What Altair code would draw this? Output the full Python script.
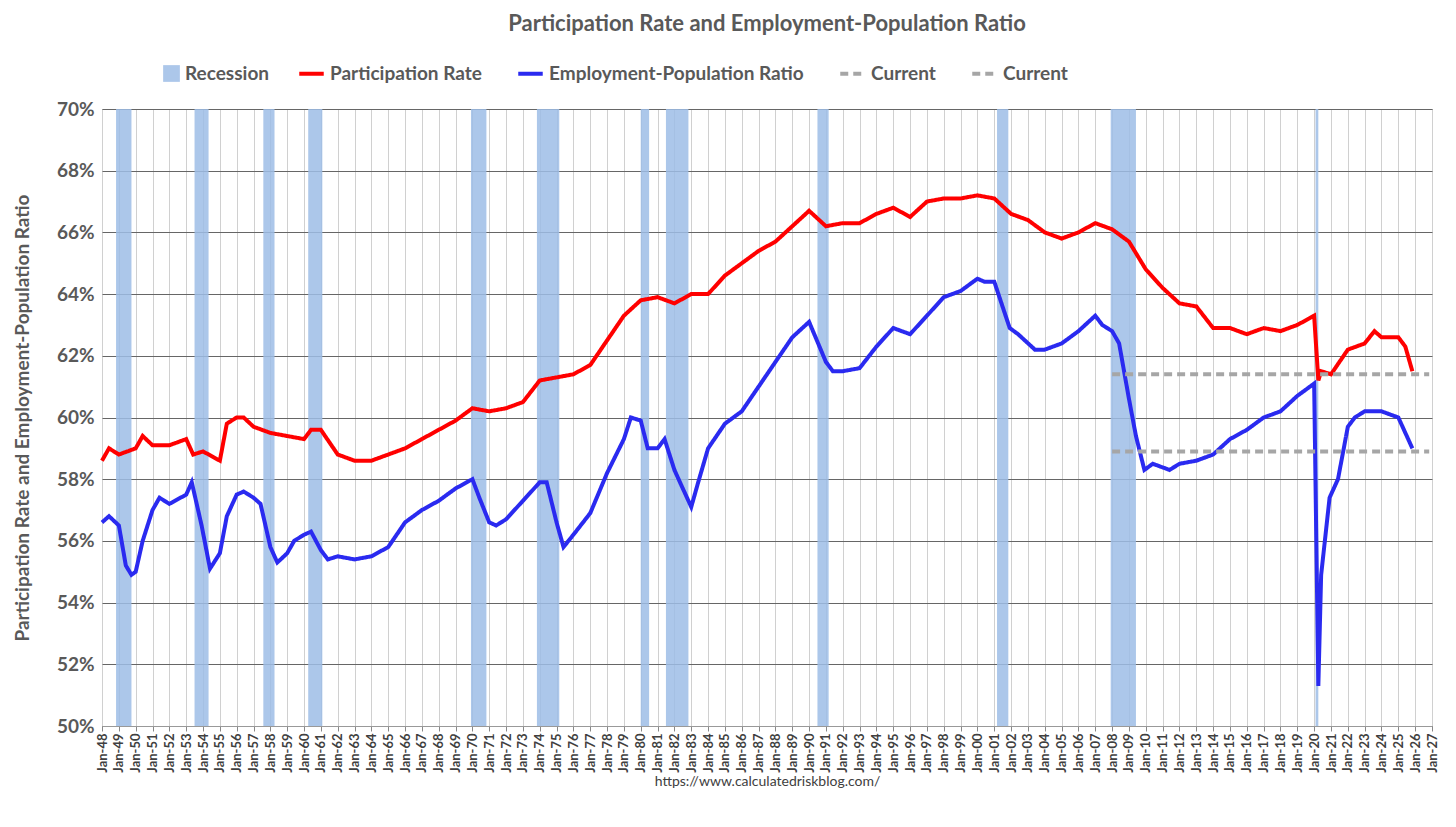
import altair as alt
import pandas as pd

lfpr_dates = ["1948-01","1948-06","1949-01","1950-01","1950-06","1951-01","1952-01","1953-01","1953-06","1954-01","1955-01","1955-06","1956-01","1956-06","1957-01","1958-01","1959-01","1960-01","1960-06","1961-01","1962-01","1963-01","1964-01","1965-01","1966-01","1967-01","1968-01","1969-01","1970-01","1971-01","1972-01","1973-01","1974-01","1975-01","1976-01","1977-01","1978-01","1979-01","1980-01","1981-01","1982-01","1983-01","1984-01","1985-01","1986-01","1987-01","1988-01","1989-01","1990-01","1991-01","1992-01","1993-01","1994-01","1995-01","1996-01","1997-01","1998-01","1999-01","2000-01","2001-01","2002-01","2003-01","2004-01","2005-01","2006-01","2007-01","2008-01","2009-01","2010-01","2011-01","2012-01","2013-01","2014-01","2015-01","2016-01","2017-01","2018-01","2019-01","2020-01","2020-04","2020-06","2021-01","2022-01","2023-01","2023-08","2024-01","2025-01","2025-06","2025-11"]
lfpr_vals = [58.6,59.0,58.8,59.0,59.4,59.1,59.1,59.3,58.8,58.9,58.6,59.8,60.0,60.0,59.7,59.5,59.4,59.3,59.6,59.6,58.8,58.6,58.6,58.8,59.0,59.3,59.6,59.9,60.3,60.2,60.3,60.5,61.2,61.3,61.4,61.7,62.5,63.3,63.8,63.9,63.7,64.0,64.0,64.6,65.0,65.4,65.7,66.2,66.7,66.2,66.3,66.3,66.6,66.8,66.5,67.0,67.1,67.1,67.2,67.1,66.6,66.4,66.0,65.8,66.0,66.3,66.1,65.7,64.8,64.2,63.7,63.6,62.9,62.9,62.7,62.9,62.8,63.0,63.3,61.2,61.5,61.4,62.2,62.4,62.8,62.6,62.6,62.3,61.5]

epop_dates = ["1948-01","1948-06","1949-01","1949-06","1949-10","1950-01","1950-06","1951-01","1951-06","1952-01","1953-01","1953-05","1953-12","1954-06","1955-01","1955-06","1956-01","1956-06","1957-01","1957-06","1958-01","1958-06","1959-01","1959-06","1960-01","1960-06","1961-01","1961-06","1962-01","1963-01","1964-01","1965-01","1966-01","1967-01","1968-01","1969-01","1970-01","1970-06","1971-01","1971-06","1972-01","1973-01","1974-01","1974-06","1975-01","1975-06","1976-01","1977-01","1978-01","1979-01","1979-06","1980-01","1980-06","1981-01","1981-06","1982-01","1982-06","1983-01","1983-06","1984-01","1985-01","1986-01","1987-01","1988-01","1989-01","1990-01","1991-01","1991-06","1992-01","1993-01","1994-01","1995-01","1996-01","1997-01","1998-01","1999-01","2000-01","2000-06","2001-01","2001-12","2002-06","2003-06","2004-01","2005-01","2006-01","2007-01","2007-06","2008-01","2008-06","2009-01","2009-06","2009-12","2010-06","2011-06","2012-01","2013-01","2014-01","2015-01","2016-01","2017-01","2018-01","2019-01","2020-01","2020-04","2020-06","2020-12","2021-06","2022-01","2022-06","2023-01","2024-01","2025-01","2025-11"]
epop_vals = [56.6,56.8,56.5,55.2,54.9,55.0,56.0,57.0,57.4,57.2,57.5,57.9,56.5,55.1,55.6,56.8,57.5,57.6,57.4,57.2,55.8,55.3,55.6,56.0,56.2,56.3,55.7,55.4,55.5,55.4,55.5,55.8,56.6,57.0,57.3,57.7,58.0,57.4,56.6,56.5,56.7,57.3,57.9,57.9,56.6,55.8,56.2,56.9,58.2,59.3,60.0,59.9,59.0,59.0,59.3,58.3,57.8,57.1,57.9,59.0,59.8,60.2,61.0,61.8,62.6,63.1,61.8,61.5,61.5,61.6,62.3,62.9,62.7,63.3,63.9,64.1,64.5,64.4,64.4,62.9,62.7,62.2,62.2,62.4,62.8,63.3,63.0,62.8,62.4,60.6,59.4,58.3,58.5,58.3,58.5,58.6,58.8,59.3,59.6,60.0,60.2,60.7,61.1,51.3,54.9,57.4,58.0,59.7,60.0,60.2,60.2,60.0,59.0]

rec_start = ["1948-11","1953-07","1957-08","1960-04","1969-12","1973-11","1980-01","1981-07","1990-07","2001-03","2007-12","2020-02"]
rec_end = ["1949-10","1954-05","1958-04","1961-02","1970-11","1975-03","1980-07","1982-11","1991-03","2001-11","2009-06","2020-04"]

cur_start = "2008-01"
cur_end = "2026-11"
cur_lfpr = 61.4
cur_epop = 58.9

series = pd.concat([
    pd.DataFrame({"date": lfpr_dates, "v": lfpr_vals, "s": "Participation Rate"}),
    pd.DataFrame({"date": epop_dates, "v": epop_vals, "s": "Employment-Population Ratio"}),
    pd.DataFrame({"date": [cur_start, cur_end], "v": [cur_lfpr]*2, "s": "Current"}),
    pd.DataFrame({"date": [cur_start, cur_end], "v": [cur_epop]*2, "s": "Current "}),
])
rec = pd.DataFrame({"start": rec_start, "end": rec_end, "r": "Recession"})

dom = ["Participation Rate", "Employment-Population Ratio", "Current", "Current "]
F = "Lato"
xscale = alt.Scale(domain=["1948-01-01", "2027-01-01"])

recs = alt.Chart(rec).mark_rect(opacity=0.85).encode(
    x=alt.X("start:T", scale=xscale),
    x2="end:T",
    y=alt.value(0), y2=alt.value(617),
    fill=alt.Fill("r:N", scale=alt.Scale(range=["#9dbde6"]),
                  legend=alt.Legend(title=None, orient="none", legendX=60, legendY=-45,
                                    symbolType="square", direction="horizontal",
                                    symbolSize=280, labelFontSize=19, labelFont=F,
                                    labelColor="#595959", labelFontWeight="bold")),
)

lines = alt.Chart(series).mark_line(strokeWidth=4).encode(
    x=alt.X("date:T", scale=xscale,
            axis=alt.Axis(format="%b-%y", tickCount={"interval": "year", "step": 1},
                          labelAngle=270, labelFontSize=13, labelFont=F, labelColor="#404040",
                          labelFontWeight="bold", grid=True, gridColor="#d0d0d0",
                          title="https://www.calculatedriskblog.com/", titleFontSize=14,
                          titleFont=F, titleFontWeight="normal", titleColor="#404040",
                          titlePadding=2, labelOverlap=False, domainColor="#999")),
    y=alt.Y("v:Q", scale=alt.Scale(domain=[50, 70]),
            axis=alt.Axis(values=list(range(50, 71, 2)), labelExpr="datum.value + '%'",
                          labelFontSize=19, labelFont=F, labelColor="#595959", labelFontWeight="bold",
                          gridColor="#666", title="Participation Rate and Employment-Population Ratio",
                          titleFontSize=19, titleFont=F, titleColor="#595959", titlePadding=24,
                          domain=False, ticks=False, labelPadding=8)),
    stroke=alt.Stroke("s:N", scale=alt.Scale(domain=dom, range=["#ff0000", "#2a2af0", "#a6a6a6", "#a6a6a6"]),
                      legend=alt.Legend(title=None, orient="none", legendX=195, legendY=-50,
                                        direction="horizontal", symbolType="stroke", symbolStrokeWidth=4,
                                        symbolSize=600, labelFontSize=19, labelFont=F, labelColor="#595959",
                                        labelFontWeight="bold", columnPadding=28, labelLimit=400)),
    strokeDash=alt.StrokeDash("s:N", scale=alt.Scale(domain=dom, range=[[1, 0], [1, 0], [8, 5], [8, 5]]),
                              legend=None),
    strokeWidth=alt.StrokeWidth("s:N", scale=alt.Scale(domain=dom, range=[4, 4, 3, 3]), legend=None),
)

chart = alt.layer(recs, lines).resolve_legend(fill="independent").properties(
    width=1330, height=617,
    title=alt.Title("Participation Rate and Employment-Population Ratio", fontSize=22, font=F,
                    color="#595959", fontWeight="bold", offset=23),
).configure_view(stroke="#999")

chart.save("out.html", embed_options={"renderer": "svg", "actions": False})
